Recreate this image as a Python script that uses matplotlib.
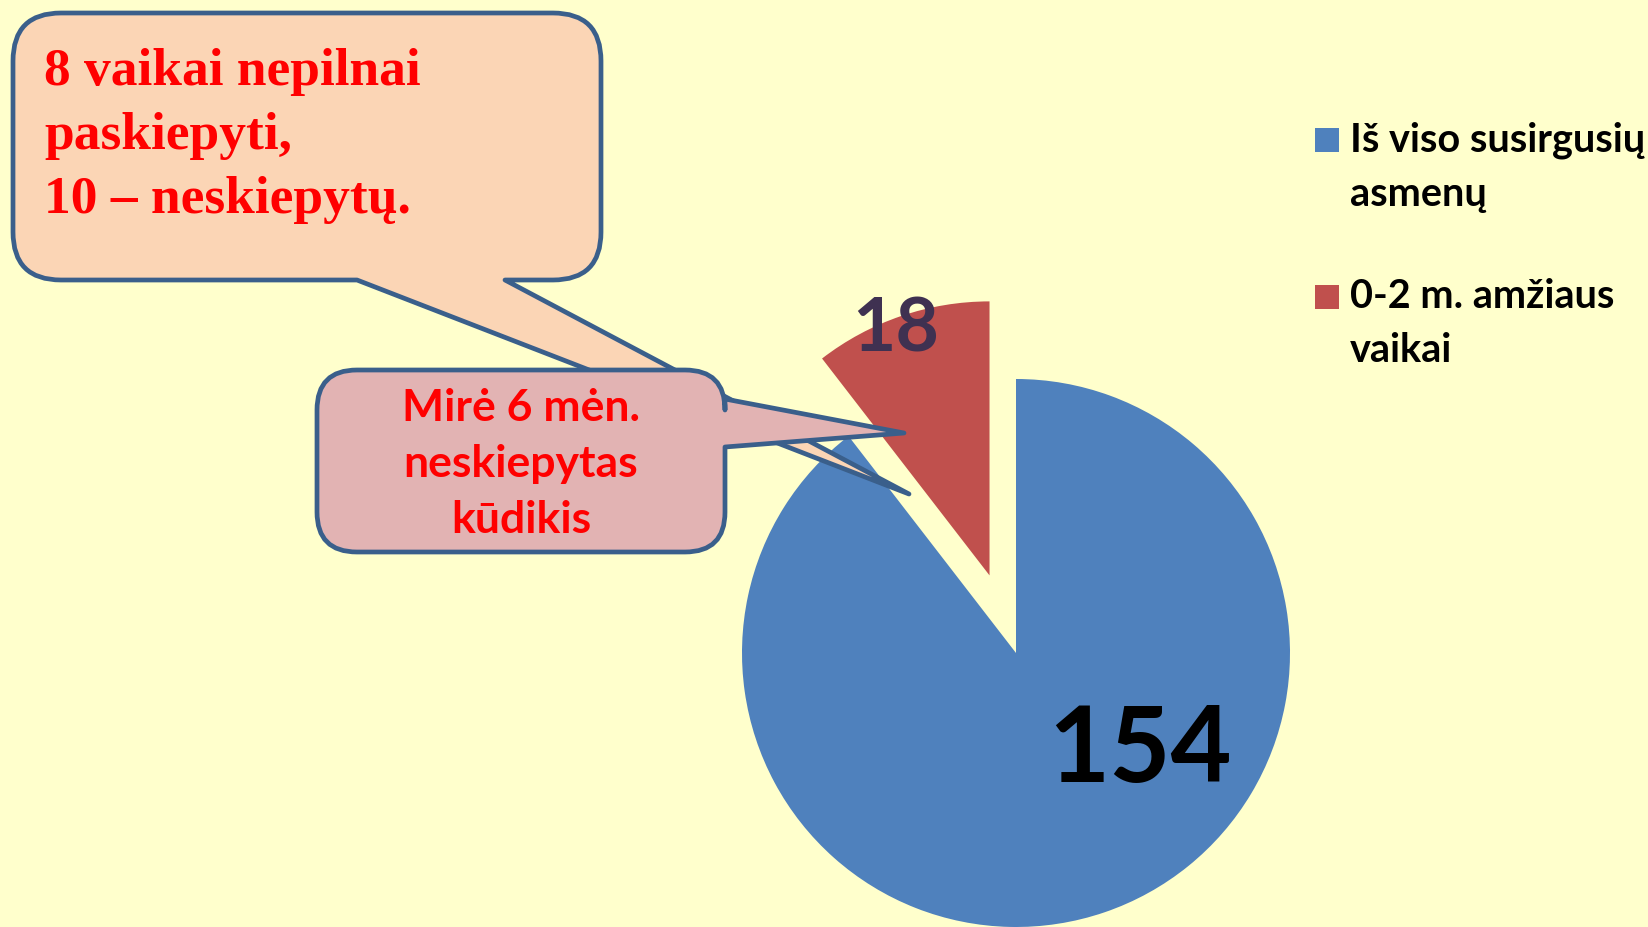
import matplotlib
matplotlib.use("Agg")
import matplotlib.pyplot as plt
from matplotlib.path import Path
from matplotlib.patches import PathPatch, Rectangle

# data
labels = ["Iš viso susirgusių\nasmenų", "0-2 m. amžiaus\nvaikai"]
values = [154, 18]
colors = ["#4F81BD", "#C0504D"]

note_top = ["8 vaikai nepilnai", "paskiepyti,", "10 – neskiepytų."]
note_mid = ["Mirė 6 mėn.", "neskiepytas", "kūdikis"]

W, H = 1648, 927
BG = "#FFFFCC"
EDGE = "#3A5F8B"


def bubble(x0, y0, x1, y1, r, side, a, b, tip):
    # rounded box with a pointer, pixel coords (y down)
    v = [(x0 + r, y0), (x1 - r, y0), (x1, y0), (x1, y0 + r)]
    c = [Path.MOVETO, Path.LINETO, Path.CURVE3, Path.CURVE3]
    if side == "right":
        v += [(x1, a), tip, (x1, b)]
        c += [Path.LINETO] * 3
    v += [(x1, y1 - r), (x1, y1), (x1 - r, y1)]
    c += [Path.LINETO, Path.CURVE3, Path.CURVE3]
    if side == "bottom":
        v += [(a, y1), tip, (b, y1)]
        c += [Path.LINETO] * 3
    v += [(x0 + r, y1), (x0, y1), (x0, y1 - r), (x0, y0 + r), (x0, y0), (x0 + r, y0), (x0 + r, y0)]
    c += [Path.LINETO, Path.CURVE3, Path.CURVE3, Path.LINETO, Path.CURVE3, Path.CURVE3, Path.CLOSEPOLY]
    return Path(v, c)


fig = plt.figure(figsize=(W / 100, H / 100), dpi=100)
fig.patch.set_facecolor(BG)
ax = fig.add_axes([0, 0, 1, 1])

wedges, _ = ax.pie(values, colors=colors, radius=274, center=(1016, 653),
                   startangle=-90, counterclock=True, explode=[0, 82],
                   wedgeprops=dict(linewidth=0))
ax.set_xlim(0, W)
ax.set_ylim(H, 0)
ax.set_aspect("auto")
ax.axis("off")

ax.text(1140, 752, str(values[0]), fontsize=76, fontweight="bold", family="Lato",
        color="black", ha="center", va="center")
ax.text(896, 330, str(values[1]), fontsize=54, fontweight="bold", family="Lato",
        color="#3F3151", ha="center", va="center")

# callouts
p1 = bubble(13, 13, 601, 280, 48, "bottom", 505, 357, (909, 494))
ax.add_patch(PathPatch(p1, facecolor="#FBD5B5", edgecolor=EDGE, lw=3.4, zorder=3,
                       joinstyle="round"))
for i, line in enumerate(note_top):
    ax.text(44, 72 + i * 64, line, fontsize=38.5, fontweight="bold", family="Liberation Serif",
            color="#FF0000", ha="left", va="center", zorder=3.5)

p2 = bubble(317, 370, 725, 552, 40, "right", 399, 447, (904, 433))
ax.add_patch(PathPatch(p2, facecolor="#E2B3B3", edgecolor=EDGE, lw=3.4, zorder=4,
                       joinstyle="round"))
for i, line in enumerate(note_mid):
    ax.text(521, 408 + i * 56, line, fontsize=32, fontweight="bold", family="Lato",
            color="#FF0000", ha="center", va="center", zorder=4.5)

# legend, square next to first line of each entry
for i, (lab, col) in enumerate(zip(labels, colors)):
    y = 140 + i * 157
    ax.add_patch(Rectangle((1315, y - 12), 24, 24, facecolor=col, edgecolor="none", clip_on=False))
    for j, part in enumerate(lab.split("\n")):
        ax.text(1350, y + j * 54, part, fontsize=28.5, fontweight="bold", family="Lato",
                color="black", ha="left", va="center")

fig.savefig("out.png", dpi=100, facecolor=BG)
